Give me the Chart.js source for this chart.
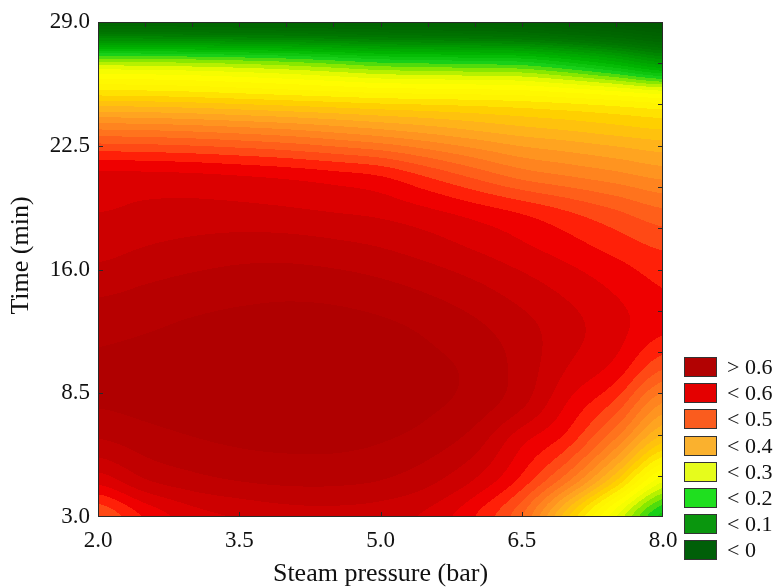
<!DOCTYPE html>
<html lang="en">
<head>
<meta charset="UTF-8">
<title>Steam pressure / time contour</title>
<script src="https://cdn.jsdelivr.net/npm/chart.js"></script>
<style>
  html, body { margin: 0; padding: 0; background: #fff; }
  canvas { display: block; }
</style>
</head>
<body>
<canvas id="chart" width="776" height="587"></canvas>
<script>
// grid: columns = steam pressure, rows = time (top to bottom)
const pressure = [2.0, 2.5, 3.0, 3.5, 4.0, 4.5, 5.0, 5.5, 6.0, 6.5, 7.0, 7.5, 8.0];
const time = [29, 27, 25, 23, 21, 19, 17, 15, 13, 11, 9, 7, 5, 3];
const surface = [
  [-0.10, -0.10, -0.105, -0.11, -0.11, -0.115, -0.12, -0.125, -0.13, -0.14, -0.155, -0.17, -0.19], // 29
  [0.21, 0.208, 0.204, 0.198, 0.19, 0.178, 0.165, 0.16, 0.155, 0.15, 0.125, 0.09, 0.045],          // 27
  [0.37, 0.368, 0.364, 0.358, 0.352, 0.346, 0.34, 0.337, 0.334, 0.33, 0.322, 0.312, 0.30],         // 25
  [0.50, 0.498, 0.494, 0.488, 0.481, 0.471, 0.46, 0.447, 0.433, 0.42, 0.411, 0.401, 0.392],        // 23
  [0.585, 0.584, 0.582, 0.578, 0.573, 0.566, 0.557, 0.535, 0.512, 0.49, 0.477, 0.465, 0.452],      // 21
  [0.60, 0.604, 0.606, 0.606, 0.604, 0.60, 0.595, 0.585, 0.572, 0.558, 0.541, 0.523, 0.505],       // 19
  [0.614, 0.622, 0.628, 0.632, 0.632, 0.628, 0.622, 0.612, 0.60, 0.586, 0.571, 0.555, 0.54],       // 17
  [0.635, 0.642, 0.648, 0.652, 0.654, 0.652, 0.646, 0.637, 0.625, 0.61, 0.594, 0.577, 0.56],       // 15
  [0.655, 0.658, 0.663, 0.667, 0.669, 0.668, 0.664, 0.656, 0.644, 0.627, 0.607, 0.587, 0.565],     // 13
  [0.662, 0.665, 0.669, 0.672, 0.674, 0.673, 0.67, 0.664, 0.655, 0.632, 0.60, 0.575, 0.527],       // 11
  [0.662, 0.666, 0.67, 0.673, 0.675, 0.674, 0.671, 0.664, 0.652, 0.625, 0.578, 0.535, 0.46],       // 9
  [0.638, 0.65, 0.658, 0.663, 0.665, 0.665, 0.661, 0.651, 0.63, 0.585, 0.548, 0.475, 0.385],       // 7
  [0.59, 0.62, 0.634, 0.642, 0.646, 0.646, 0.641, 0.627, 0.60, 0.555, 0.485, 0.385, 0.27],         // 5
  [0.52, 0.562, 0.59, 0.602, 0.61, 0.612, 0.608, 0.595, 0.56, 0.50, 0.38, 0.26, 0.15]              // 3
];

const xTickValues = [2.0, 3.5, 5.0, 6.5, 8.0];
const xTickLabels = ['2.0', '3.5', '5.0', '6.5', '8.0'];
const yTickValues = [3, 9.5, 16, 22.5, 29];
const yTickLabels = ['3.0', '8.5', '16.0', '22.5', '29.0'];
const xTitle = 'Steam pressure (bar)';
const yTitle = 'Time (min)';

const legendLabels = ['> 0.6', '< 0.6', '< 0.5', '< 0.4', '< 0.3', '< 0.2', '< 0.1', '< 0'];
const legendColors = ['#b20202', '#e40000', '#fa5c1e', '#fab12e', '#e6fc1c', '#1fdf1f', '#0a960e', '#005f08'];

// colour ramp for the fine contour bands
const rampStops = [
  [-0.20, '#005800'], [-0.10, '#006600'], [-0.02, '#007800'], [0.05, '#009800'],
  [0.12, '#00b800'], [0.17, '#18d018'], [0.21, '#88e800'], [0.25, '#e4fa00'],
  [0.28, '#ffff00'], [0.33, '#fff400'], [0.37, '#ffd000'], [0.42, '#ffac20'],
  [0.46, '#ff8c20'], [0.50, '#ff6a1c'], [0.535, '#ff4414'], [0.55, '#ff2008'],
  [0.565, '#f40000'], [0.58, '#e40000'], [0.60, '#d40000'], [0.62, '#c60000'],
  [0.64, '#bc0000'], [0.66, '#b20000'], [0.70, '#a80000']
];
const bandStep = 0.02;

const FONT = "'Liberation Serif', 'Times New Roman', serif";
const TICK_SIZE = 23;
const TITLE_SIZE = 26;
const LEGEND_SIZE = 22;

function hexRgb(h) {
  return [parseInt(h.slice(1, 3), 16), parseInt(h.slice(3, 5), 16), parseInt(h.slice(5, 7), 16)];
}
const rampRgb = rampStops.map(s => [s[0], hexRgb(s[1])]);

function rampColor(v) {
  if (v <= rampRgb[0][0]) return rampRgb[0][1];
  for (let i = 1; i < rampRgb.length; i++) {
    if (v <= rampRgb[i][0]) {
      const a = rampRgb[i - 1], b = rampRgb[i];
      const u = (v - a[0]) / (b[0] - a[0]);
      return [0, 1, 2].map(k => Math.round(a[1][k] + (b[1][k] - a[1][k]) * u));
    }
  }
  return rampRgb[rampRgb.length - 1][1];
}

function bandColor(v) {
  const mid = (Math.floor(v / bandStep) + 0.5) * bandStep;
  return rampColor(mid);
}

// Catmull-Rom between p1 and p2
function cr(p0, p1, p2, p3, u) {
  return 0.5 * (2 * p1 + (-p0 + p2) * u + (2 * p0 - 5 * p1 + 4 * p2 - p3) * u * u +
    (-p0 + 3 * p1 - 3 * p2 + p3) * u * u * u);
}

function locate(arr, v) {
  const n = arr.length;
  const asc = arr[n - 1] > arr[0];
  for (let i = 0; i < n - 1; i++) {
    const a = arr[i], b = arr[i + 1];
    if ((asc && v <= b) || (!asc && v >= b)) {
      return [i, Math.min(1, Math.max(0, (v - a) / (b - a)))];
    }
  }
  return [n - 2, 1];
}

function sampleRow(row, i, u) {
  const n = row.length;
  return cr(row[Math.max(i - 1, 0)], row[i], row[i + 1], row[Math.min(i + 2, n - 1)], u);
}

const contourPlugin = {
  id: 'contourFill',
  beforeDatasetsDraw(chart) {
    const {ctx, chartArea: a, scales: {x, y}} = chart;
    const left = Math.round(a.left), top = Math.round(a.top);
    const w = Math.round(a.right) - left, h = Math.round(a.bottom) - top;
    const img = ctx.createImageData(w, h);
    const nr = time.length;
    for (let i = 0; i < w; i++) {
      const p = x.getValueForPixel(left + i + 0.5);
      const [ci, cu] = locate(pressure, p);
      const col = surface.map(row => sampleRow(row, ci, cu));
      for (let j = 0; j < h; j++) {
        const t = y.getValueForPixel(top + j + 0.5);
        const [ri, ru] = locate(time, t);
        const v = cr(col[Math.max(ri - 1, 0)], col[ri], col[ri + 1], col[Math.min(ri + 2, nr - 1)], ru);
        const c = bandColor(v);
        const k = (j * w + i) * 4;
        img.data[k] = c[0]; img.data[k + 1] = c[1]; img.data[k + 2] = c[2]; img.data[k + 3] = 255;
      }
    }
    ctx.putImageData(img, left, top);
  },
  afterDatasetsDraw(chart) {
    const {ctx, chartArea: a, scales: {x, y}} = chart;
    ctx.save();
    ctx.strokeStyle = '#2a2a2a';
    ctx.lineWidth = 1;
    ctx.beginPath();
    // top ticks every 0.5 bar, bottom ticks at labels
    for (let p = 2.5; p < 8; p += 0.5) {
      const px = Math.round(x.getPixelForValue(p)) + 0.5;
      ctx.moveTo(px, a.top); ctx.lineTo(px, a.top + 5);
    }
    xTickValues.slice(1, -1).forEach(p => {
      const px = Math.round(x.getPixelForValue(p)) + 0.5;
      ctx.moveTo(px, a.bottom); ctx.lineTo(px, a.bottom - 5);
    });
    // right ticks at thirds of the label spacing, left ticks at labels
    const yStep = (yTickValues[1] - yTickValues[0]) / 3;
    for (let t = yTickValues[0] + yStep; t < 29 - 0.01; t += yStep) {
      const py = Math.round(y.getPixelForValue(t)) + 0.5;
      ctx.moveTo(a.right, py); ctx.lineTo(a.right - 5, py);
    }
    yTickValues.slice(1, -1).forEach(t => {
      const py = Math.round(y.getPixelForValue(t)) + 0.5;
      ctx.moveTo(a.left, py); ctx.lineTo(a.left + 5, py);
    });
    ctx.stroke();
    ctx.strokeRect(Math.round(a.left) + 0.5, Math.round(a.top) + 0.5,
      Math.round(a.right - a.left) - 1, Math.round(a.bottom - a.top) - 1);
    ctx.restore();
  },
  afterDraw(chart) {
    const {ctx, chartArea: a} = chart;
    // axis titles
    ctx.save();
    ctx.fillStyle = '#111';
    ctx.font = TITLE_SIZE + 'px ' + FONT;
    ctx.textAlign = 'center';
    ctx.textBaseline = 'middle';
    ctx.fillText(xTitle, (a.left + a.right) / 2, 574);
    ctx.translate(21, (a.top + a.bottom) / 2 - 14);
    ctx.rotate(-Math.PI / 2);
    ctx.fillText(yTitle, 0, 0);
    ctx.restore();

    // legend
    const bx = a.right + 21, by = 357, bw = 33, bh = 20, gap = 26.2;
    ctx.save();
    ctx.font = LEGEND_SIZE + 'px ' + FONT;
    ctx.textBaseline = 'middle';
    ctx.textAlign = 'left';
    legendLabels.forEach((lab, i) => {
      const top = Math.round(by + i * gap);
      ctx.fillStyle = legendColors[i];
      ctx.fillRect(bx, top, bw, bh);
      ctx.strokeStyle = '#333';
      ctx.lineWidth = 1;
      ctx.strokeRect(bx + 0.5, top + 0.5, bw - 1, bh - 1);
      ctx.fillStyle = '#111';
      ctx.fillText(lab, bx + 43, top + bh / 2 + 1);
    });
    ctx.restore();
  }
};

const points = [];
time.forEach((t, r) => pressure.forEach((p, c) => points.push({x: p, y: t, v: surface[r][c]})));

new Chart(document.getElementById('chart'), {
  type: 'scatter',
  data: {
    datasets: [{
      label: 'surface',
      data: points,
      pointRadius: 0,
      showLine: false
    }]
  },
  options: {
    responsive: false,
    animation: false,
    devicePixelRatio: 1,
    events: [],
    layout: { padding: { top: 22, right: 113, left: 0, bottom: 0 } },
    plugins: { legend: { display: false }, tooltip: { enabled: false } },
    scales: {
      x: {
        type: 'linear',
        min: 2, max: 8,
        afterBuildTicks: s => { s.ticks = xTickValues.map(v => ({value: v})); },
        afterFit: s => { s.height = 70; },
        grid: { display: false, drawTicks: false },
        border: { display: false },
        ticks: {
          callback: (v, i) => xTickLabels[i],
          color: '#111', padding: 10, maxRotation: 0, autoSkip: false,
          font: { family: FONT, size: TICK_SIZE }
        },
        title: { display: false }
      },
      y: {
        type: 'linear',
        min: 3, max: 29,
        afterBuildTicks: s => { s.ticks = yTickValues.map(v => ({value: v})); },
        afterFit: s => { s.width = 98; },
        grid: { display: false, drawTicks: false },
        border: { display: false },
        ticks: {
          callback: (v, i) => yTickLabels[i],
          color: '#111', padding: 8, autoSkip: false,
          font: { family: FONT, size: TICK_SIZE }
        },
        title: { display: false }
      }
    }
  },
  plugins: [contourPlugin]
});
</script>
</body>
</html>
